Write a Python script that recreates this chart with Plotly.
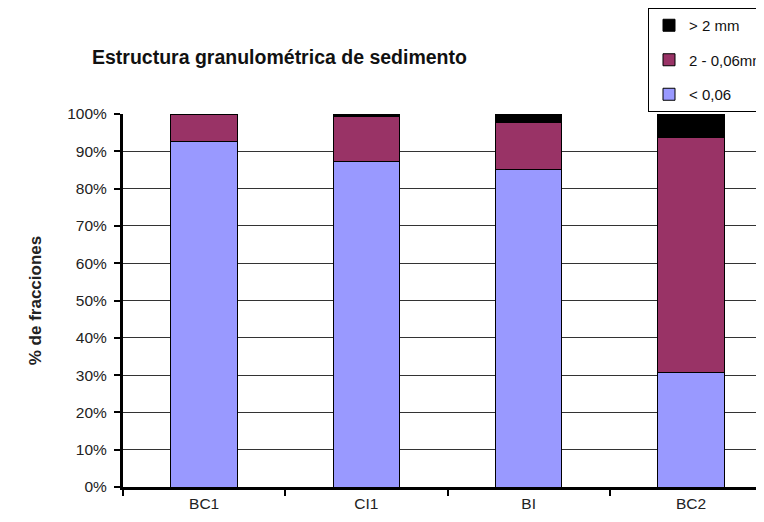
import plotly.graph_objects as go

# sample sites and fraction shares (%)
sites = ["BC1", "CI1", "BI", "BC2"]
fine = [92.5, 87.4, 85.0, 30.8]      # < 0,06
medium = [7.5, 11.8, 12.8, 63.0]     # 2 - 0,06mm
coarse = [0.0, 0.8, 2.2, 6.2]        # > 2 mm
series_names = ["< 0,06", "2 - 0,06mm", "> 2 mm"]
series_colors = ["#9999FF", "#993366", "#000000"]

xpos = list(range(len(sites)))

# page body keeps its default 8px margin, so the figure is 8px smaller
W, H = 756, 514

fig = go.Figure()
for i, (name, vals, clr) in enumerate(zip(series_names, [fine, medium, coarse], series_colors)):
    fig.add_trace(go.Bar(x=xpos, y=vals, name=name, width=0.41,
        marker=dict(color=clr, line=dict(color="#000000", width=1)),
        legendgroup=f"g{i}", legendrank=3 - i))

fig.update_layout(
    width=W, height=H,
    barmode="stack",
    paper_bgcolor="white", plot_bgcolor="white",
    margin=dict(l=115, r=0, t=106, b=35, autoexpand=False),
    font=dict(family="Liberation Sans, Arial, sans-serif", size=15, color="#111111"),
    title=dict(text="<b>Estructura granulométrica de sedimento</b>",
        font=dict(size=19.5, color="#111111"), x=84/W, xanchor="left",
        y=1 - 49/H, yanchor="middle", xref="container", yref="container"),
    legend=dict(x=640/W, xanchor="left", y=1 - 0/H, yanchor="top",
        xref="container", yref="container",
        traceorder="grouped", tracegroupgap=12,
        bordercolor="#000000", borderwidth=1, bgcolor="white",
        font=dict(size=15, color="#111111"), itemwidth=30),
    showlegend=True,
)

fig.update_xaxes(range=[-0.5, 3.45], tickvals=xpos, ticktext=sites, ticks="",
    showgrid=False, showline=True, linecolor="#000000", linewidth=3,
    tickfont=dict(size=15.5, color="#222222"), zeroline=False,
    minor=dict(tickvals=[-0.5, 0.5, 1.5, 2.5], ticks="outside", ticklen=6,
        tickwidth=2, tickcolor="#000000", showgrid=False))
fig.update_yaxes(range=[0, 100], dtick=10, ticksuffix="%",
    showgrid=True, gridcolor="#333333", gridwidth=1,
    showline=True, linecolor="#000000", linewidth=3,
    ticks="outside", ticklen=6, tickwidth=2, tickcolor="#000000",
    ticklabelstandoff=4,
    tickfont=dict(size=15.5, color="#222222"), zeroline=False,
    title=dict(text="<b>% de fracciones</b>", font=dict(size=17, color="#222222"),
        standoff=22))

fig.write_html("out.html")
